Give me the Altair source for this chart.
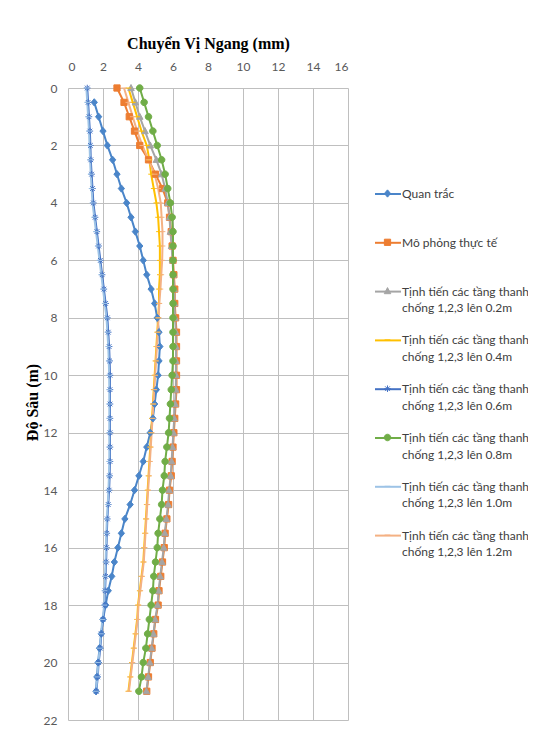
import altair as alt
import pandas as pd

# ---------------- data ----------------
depth = [0, 0.5, 1, 1.5, 2, 2.5, 3, 3.5, 4, 4.5, 5, 5.5, 6, 6.5, 7, 7.5, 8, 8.5, 9, 9.5,
         10, 10.5, 11, 11.5, 12, 12.5, 13, 13.5, 14, 14.5, 15, 15.5, 16, 16.5, 17, 17.5,
         18, 18.5, 19, 19.5, 20, 20.5, 21]
depth_qt = [0.5, 1, 1.5, 2, 2.5, 3, 3.5, 4, 4.5, 5, 5.5, 6, 6.5, 7, 7.5, 8, 8.5, 9, 9.5,
            10, 10.5, 11, 11.5, 12, 12.5, 13, 13.5, 14, 14.5, 15, 15.5, 16, 16.5, 17, 17.5,
            18, 18.5, 19, 19.5, 20, 20.5, 21]

quan_trac = [1.5, 1.75, 2.0, 2.25, 2.55, 2.8, 3.05, 3.35, 3.6, 3.85,
             4.1, 4.3, 4.5, 4.75, 4.95, 5.1, 5.2, 5.25, 5.2, 5.15,
             5.05, 4.95, 4.85, 4.7, 4.5, 4.3, 4.05, 3.8, 3.55, 3.25,
             3.05, 2.85, 2.65, 2.5, 2.3, 2.15, 2.0, 1.9, 1.8, 1.72,
             1.65, 1.6]
mo_phong = [2.8, 3.2, 3.5, 3.8, 4.1, 4.6, 5.0, 5.4, 5.7, 5.8,
            5.9, 5.95, 6.0, 6.05, 6.1, 6.1, 6.15, 6.2, 6.2, 6.2,
            6.2, 6.2, 6.15, 6.1, 6.05, 6.0, 5.95, 5.9, 5.8, 5.75,
            5.65, 5.55, 5.5, 5.4, 5.3, 5.2, 5.15, 5.0, 4.9, 4.8,
            4.7, 4.6, 4.5]
len_02 = [3.6, 3.85, 4.1, 4.4, 4.7, 5.05, 5.35, 5.55, 5.7, 5.8,
          5.85, 5.92, 5.97, 6.02, 6.07, 6.08, 6.12, 6.16, 6.17, 6.17,
          6.17, 6.16, 6.12, 6.07, 6.02, 5.97, 5.92, 5.87, 5.78, 5.72,
          5.62, 5.53, 5.47, 5.37, 5.27, 5.18, 5.12, 4.98, 4.88, 4.78,
          4.68, 4.58, 4.48]
len_04 = [3.45, 3.7, 3.95, 4.2, 4.5, 4.65, 4.75, 4.9, 5.05, 5.15,
          5.2, 5.25, 5.25, 5.25, 5.2, 5.2, 5.15, 5.1, 5.05, 5.0,
          4.95, 4.9, 4.85, 4.8, 4.75, 4.7, 4.65, 4.6, 4.55, 4.5,
          4.45, 4.4, 4.35, 4.3, 4.2, 4.1, 4.0, 3.95, 3.85, 3.75,
          3.65, 3.55, 3.45]
len_06 = [1.1, 1.15, 1.2, 1.25, 1.28, 1.3, 1.35, 1.4, 1.45, 1.55,
          1.65, 1.75, 1.85, 1.95, 2.05, 2.15, 2.25, 2.3, 2.35, 2.38,
          2.4, 2.4, 2.4, 2.4, 2.4, 2.4, 2.4, 2.38, 2.35, 2.3,
          2.25, 2.22, 2.2, 2.18, 2.15, 2.12, 2.1, 2.0, 1.9, 1.85,
          1.75, 1.7, 1.62]
len_08 = [4.1, 4.35, 4.6, 4.85, 5.1, 5.35, 5.55, 5.7, 5.85, 5.95,
          6.0, 6.0, 6.0, 6.0, 6.0, 6.0, 6.0, 6.0, 6.0, 6.0,
          5.95, 5.9, 5.85, 5.8, 5.75, 5.65, 5.55, 5.5, 5.4, 5.35,
          5.25, 5.15, 5.1, 5.0, 4.9, 4.85, 4.75, 4.65, 4.55, 4.45,
          4.3, 4.2, 4.05]
len_10 = [1.05, 1.1, 1.15, 1.2, 1.23, 1.26, 1.3, 1.35, 1.4, 1.5,
          1.6, 1.7, 1.8, 1.9, 2.0, 2.1, 2.2, 2.25, 2.3, 2.33,
          2.35, 2.36, 2.36, 2.36, 2.36, 2.36, 2.36, 2.34, 2.31, 2.27,
          2.22, 2.19, 2.17, 2.15, 2.12, 2.09, 2.07, 1.97, 1.88, 1.82,
          1.73, 1.68, 1.6]
len_12 = [3.2, 3.45, 3.7, 3.95, 4.25, 4.6, 4.95, 5.15, 5.3, 5.35,
          5.4, 5.4, 5.38, 5.33, 5.28, 5.22, 5.18, 5.13, 5.08, 5.03,
          4.98, 4.93, 4.88, 4.83, 4.78, 4.73, 4.68, 4.63, 4.58, 4.53,
          4.48, 4.43, 4.38, 4.33, 4.23, 4.13, 4.03, 3.98, 3.88, 3.78,
          3.68, 3.58, 3.48]

names = [
    "Quan trắc",
    "Mô phỏng thực tế",
    "Tịnh tiến các tầng thanh|chống 1,2,3 lên 0.2m",
    "Tịnh tiến các tầng thanh|chống 1,2,3 lên 0.4m",
    "Tịnh tiến các tầng thanh|chống 1,2,3 lên 0.6m",
    "Tịnh tiến các tầng thanh|chống 1,2,3 lên 0.8m",
    "Tịnh tiến các tầng thanh|chống 1,2,3 lên 1.0m",
    "Tịnh tiến các tầng thanh|chống 1,2,3 lên 1.2m",
]
marker_names = [n + " " for n in names]
colors = ["#4A85C9", "#ED7D31", "#A5A5A5", "#FFC000",
          "#4472C4", "#70AD47", "#9DC3E6", "#F4B183"]
fills = ["#4A85C9", "#ED7D31", "#A5A5A5", "transparent",
         "transparent", "#70AD47", "transparent", "transparent"]
# marker outlines drawn small inside the unit box (the leading moves only reserve room)
EXT = "M0,-0.96M0,0.96"
shapes = [
    EXT + "M0,-0.28L0.24,0L0,0.28L-0.24,0Z",
    EXT + "M-0.24,-0.24H0.24V0.24H-0.24Z",
    EXT + "M0,-0.27L0.25,0.2H-0.25Z",
    EXT + "M-0.22,0H0.22",
    EXT + "M-0.25,0H0.25M0,-0.25V0.25M-0.18,-0.18L0.18,0.18M-0.18,0.18L0.18,-0.18",
    EXT + "M0.25,0A0.25,0.25,0,1,1,-0.25,0A0.25,0.25,0,1,1,0.25,0Z",
    EXT + "M-0.22,0H0.22",
    EXT + "M-0.22,0H0.22",
]

series_values = [quan_trac, mo_phong, len_02, len_04, len_06, len_08, len_10, len_12]
rows = []
for si, (nm, mn, vals) in enumerate(zip(names, marker_names, series_values)):
    ds = depth_qt if si == 0 else depth
    for k, (d, v) in enumerate(zip(ds, vals)):
        rows.append({"series": nm, "series2": mn, "depth": d, "disp": v, "k": k})
df = pd.DataFrame(rows)

# ---------------- styling ----------------
FONT = "Lato"
LEG_X = 306
LEG_Y = 92
SYM = 676
LABEL_EXPR = ("indexof(datum.label, '|') >= 0 ? split(datum.label, '|') : "
              "[datum.label, '']")
X_TICKS = [0, 2, 4, 6, 8, 10, 12, 14, 16]
Y_TICKS = [0, 2, 4, 6, 8, 10, 12, 14, 16, 18, 20, 22]

xenc = alt.X("disp:Q",
             scale=alt.Scale(domain=[0, 16], nice=False, zero=False),
             axis=alt.Axis(orient="top", values=X_TICKS, tickCount=9,
                           title="Chuyển Vị Ngang (mm)", titleFont="Liberation Serif",
                           titleFontSize=16, titleFontWeight="bold", titleColor="#000000",
                           titleX=140, titleY=-45, titleBaseline="middle",
                           labelFont=FONT, labelFontSize=12, labelColor="#595959",
                           labelPadding=15, labelOverlap=False, ticks=False, domain=False,
                           grid=True, gridColor="#BFBFBF", gridWidth=1))
yenc = alt.Y("depth:Q",
             scale=alt.Scale(domain=[0, 22], reverse=True, nice=False, zero=False),
             axis=alt.Axis(values=Y_TICKS, tickCount=12,
                           title="Độ Sâu (m)", titleFont="Liberation Serif",
                           titleFontSize=16, titleFontWeight="bold", titleColor="#000000",
                           titleX=-36, titleY=314, titleAngle=270,
                           titleBaseline="middle", titleAlign="center",
                           labelFont=FONT, labelFontSize=12, labelColor="#595959",
                           labelPadding=11, labelOverlap=False, ticks=False, domain=False,
                           grid=True, gridColor="#BFBFBF", gridWidth=1))


def make_legend(visible_labels, **kw):
    return alt.Legend(
        orient="none", legendX=LEG_X, legendY=LEG_Y, title=None,
        labelExpr=LABEL_EXPR, labelFont=FONT, labelFontSize=12,
        labelColor="#404040", labelLimit=0, labelOffset=0,
        labelOpacity=1 if visible_labels else 0,
        symbolSize=SYM, rowPadding=11.8, padding=0, **kw)


leg_lines = make_legend(True, symbolType="stroke", symbolStrokeWidth=2)
leg_marks = make_legend(False, symbolStrokeWidth=1)

base = alt.Chart(df)

lines = base.mark_line(strokeWidth=2).encode(
    x=xenc, y=yenc,
    color=alt.Color("series:N", scale=alt.Scale(domain=names, range=colors),
                    legend=leg_lines, sort=names),
    order=alt.Order("k:Q"),
)

pts = base.mark_point(size=SYM, strokeWidth=1, opacity=1).encode(
    x=xenc, y=yenc,
    fill=alt.Fill("series2:N", scale=alt.Scale(domain=marker_names, range=fills),
                  legend=leg_marks, sort=marker_names),
    stroke=alt.Stroke("series2:N", scale=alt.Scale(domain=marker_names, range=colors),
                      legend=leg_marks, sort=marker_names),
    shape=alt.Shape("series2:N", scale=alt.Scale(domain=marker_names, range=shapes),
                    legend=leg_marks, sort=marker_names),
)

chart = alt.layer(lines, pts).properties(
    width=280, height=632,
    padding={"left": 60, "top": 80, "right": 180, "bottom": 10},
    autosize=alt.AutoSizeParams(type="none"),
).configure(
    background="#FFFFFF",
    view={"stroke": "transparent"},
    style={"guide-label": {"lineHeight": 16.5}},
)

chart.save("out.html", embed_options={"renderer": "svg", "actions": False})
